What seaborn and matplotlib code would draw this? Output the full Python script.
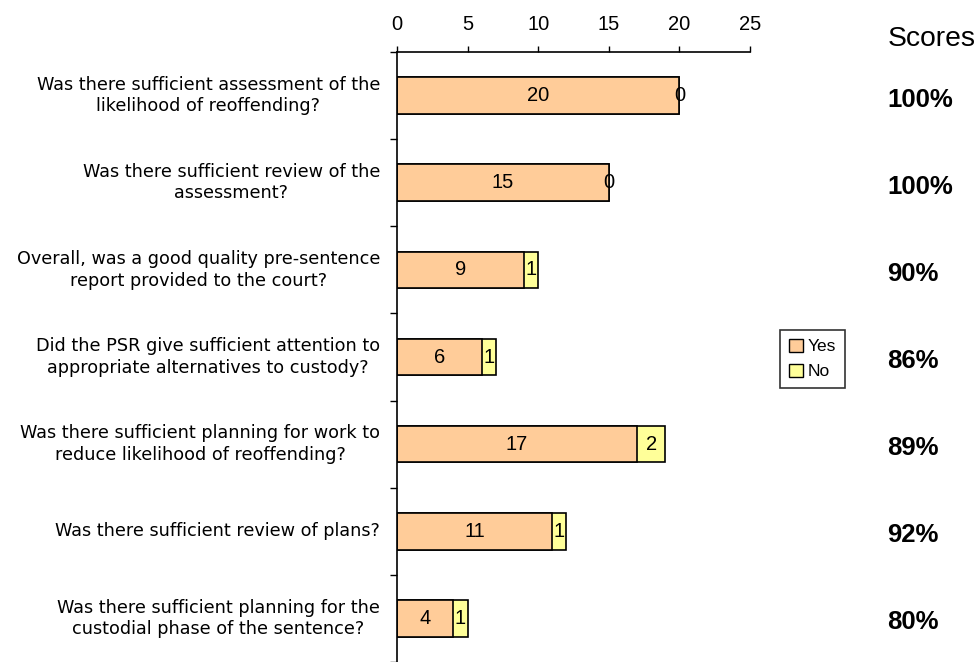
import matplotlib
matplotlib.use("Agg")
import matplotlib.pyplot as plt
import seaborn as sns
import pandas as pd
import numpy as np
from matplotlib.patches import Patch

questions = [
    "Was there sufficient assessment of the\nlikelihood of reoffending?",
    "Was there sufficient review of the\nassessment?",
    "Overall, was a good quality pre-sentence\nreport provided to the court?",
    "Did the PSR give sufficient attention to\nappropriate alternatives to custody?",
    "Was there sufficient planning for work to\nreduce likelihood of reoffending?",
    "Was there sufficient review of plans?",
    "Was there sufficient planning for the\ncustodial phase of the sentence?",
]
yes_vals = [20, 15, 9, 6, 17, 11, 4]
no_vals = [0, 0, 1, 1, 2, 1, 1]
scores = ["100%", "100%", "90%", "86%", "89%", "92%", "80%"]
x_ticks = [0, 5, 10, 15, 20, 25]

YES_COLOR = "#FFCC99"
NO_COLOR = "#FFFF99"

sns.set_theme(style="white")
plt.rcParams["font.family"] = ["Liberation Sans", "DejaVu Sans"]
plt.rcParams["text.color"] = "black"
plt.rcParams["xtick.color"] = "black"
plt.rcParams["ytick.color"] = "black"

df = pd.DataFrame({"q": questions, "yes": yes_vals, "no": no_vals})
df["total"] = df["yes"] + df["no"]

fig = plt.figure(figsize=(9.79, 6.62), dpi=100)
ax = fig.add_axes([397 / 979, 0.0, (750 - 397) / 979, 1 - 52 / 662])

sns.barplot(data=df, x="total", y="q", color=NO_COLOR, edgecolor="black",
            linewidth=1.2, width=0.42, orient="h", ax=ax, saturation=1)
sns.barplot(data=df, x="yes", y="q", color=YES_COLOR, edgecolor="black",
            linewidth=1.2, width=0.42, orient="h", ax=ax, saturation=1)

ax.set_xlim(0, 25)
ax.set_ylim(6.5, -0.5)
ax.set_xticks(x_ticks)
ax.xaxis.tick_top()
ax.xaxis.set_label_position("top")
ax.set_xlabel("")
ax.set_ylabel("")
ax.tick_params(axis="x", direction="out", length=4, width=1, color="black",
               pad=9, labelsize=14.5, labelcolor="black", top=True, bottom=False)

ax.set_yticks(range(len(questions)))
ax.set_yticklabels([])
ax.tick_params(axis="y", which="major", length=0, pad=0)
fig.canvas.draw()
renderer = fig.canvas.get_renderer()
for i, q in enumerate(questions):
    t = ax.text(0, i, q, fontsize=12.7, family="DejaVu Sans", ha="center",
                va="center", multialignment="center", linespacing=1.25,
                color="black", transform=ax.get_yaxis_transform())
    bb = t.get_window_extent(renderer)
    w = bb.width
    xc_px = 380 - w / 2
    x_axes = (xc_px - 397) / (750 - 397)
    t.set_position((x_axes, i))

ax.set_yticks(np.arange(-0.5, len(questions), 1.0), minor=True)
ax.tick_params(axis="y", which="minor", direction="out", length=5, width=1,
               color="black", left=True)

for s in ["right", "bottom"]:
    ax.spines[s].set_visible(False)
for s in ["top", "left"]:
    ax.spines[s].set_color("black")
    ax.spines[s].set_linewidth(1.2)

for i, (y, n) in enumerate(zip(yes_vals, no_vals)):
    ax.text(y / 2, i, str(y), ha="center", va="center", fontsize=14.5, color="black")
    ax.text(y + n / 2, i, str(n), ha="center", va="center", fontsize=14.5, color="black")

fig.text(888 / 979, 1 - 39 / 662, "Scores", fontsize=20.3, ha="left", va="center")
for i, sc in enumerate(scores):
    ydisp = ax.transData.transform((0, i))[1]
    fig.text(887 / 979, (ydisp - 4) / 662, sc, fontsize=18.5, fontweight="bold",
             ha="left", va="center")

handles = [Patch(facecolor=YES_COLOR, edgecolor="black", label="Yes"),
           Patch(facecolor=NO_COLOR, edgecolor="black", label="No")]
leg = fig.legend(handles=handles, loc="center left",
                 bbox_to_anchor=(780 / 979, 1 - 359 / 662), fontsize=12.5,
                 frameon=True, fancybox=False, edgecolor="black",
                 handlelength=0.8, handleheight=0.8, handletextpad=0.3,
                 borderpad=0.5, labelspacing=0.55, borderaxespad=0)
leg.get_frame().set_linewidth(1.2)

fig.savefig("out.png", dpi=100)
